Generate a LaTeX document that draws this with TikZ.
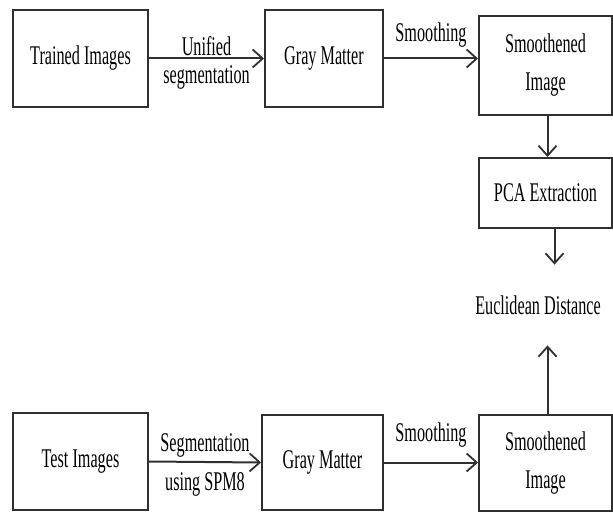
\documentclass[tikz,border=0pt]{standalone}
\usepackage{fontspec}
\setmainfont[FakeStretch=0.6]{Liberation Serif}
\usepackage{xcolor}
\usepackage{tikz}
\usetikzlibrary{arrows.meta,positioning}
\definecolor{edge}{HTML}{303030}
\tikzset{
  stage/.style={draw=edge,fill=white,line width=1pt,align=center,inner sep=2pt},
  sarr/.style={-{Straight Barb[length=5pt,width=9pt,line width=0.9pt]},line width=1pt,draw=edge},
  lbl/.style={inner sep=1pt}
}

\begin{document}
\begin{tikzpicture}[x=0.5pt,y=-0.5pt,font=\fontsize{13.5}{19}\selectfont]
  \useasboundingbox (0,0) rectangle (613,512);
  % training branch
  \node[stage,minimum width=67.5pt,minimum height=48.5pt] (ti) at (80.5,58.5) {Trained Images};
  \node[stage,minimum width=59pt,minimum height=48.5pt] (gm1) at (324,58.5) {Gray Matter};
  \node[stage,minimum width=66.5pt,minimum height=49.5pt] (si1) at (545.5,65.5) {Smoothened\\ Image};
  \node[stage,minimum width=66.5pt,minimum height=35pt] (pca) at (545.5,193) {PCA Extraction};
  \node[minimum height=40pt,inner sep=0pt] (ed) at (538,305) {Euclidean Distance};
  % test branch
  \node[stage,minimum width=67.5pt,minimum height=48.5pt] (te) at (80.5,461.5) {Test Images};
  \node[stage,minimum width=60.5pt,minimum height=47.5pt] (gm2) at (322.5,462.5) {Gray Matter};
  \node[stage,minimum width=66.5pt,minimum height=48pt] (si2) at (545.5,463) {Smoothened\\ Image};
  \draw[sarr] (ti.east) -- node[lbl,above] {Unified} node[lbl,below=2pt] {segmentation} (gm1.west);
  \draw[sarr] (gm1.east) -- node[lbl,above=4pt] {Smoothing} (gm1.east -| si1.west);
  \draw[sarr] ([xshift=1pt]si1.south) -- ([xshift=1pt]pca.north);
  \draw[sarr] ([xshift=4.5pt]pca.south) -- ([xshift=4.5pt]pca.south |- ed.north);
  \draw[sarr] (te.east) -- node[lbl,above=1pt] {Segmentation} node[lbl,below=4pt] {using SPM8} (gm2.west);
  \draw[sarr] (gm2.east) -- node[lbl,above=6pt] {Smoothing} (gm2.east -| si2.west);
  \draw[sarr] ([xshift=1pt]si2.north) -- ([xshift=1pt]si2.north |- ed.south);
\end{tikzpicture}
\end{document}
